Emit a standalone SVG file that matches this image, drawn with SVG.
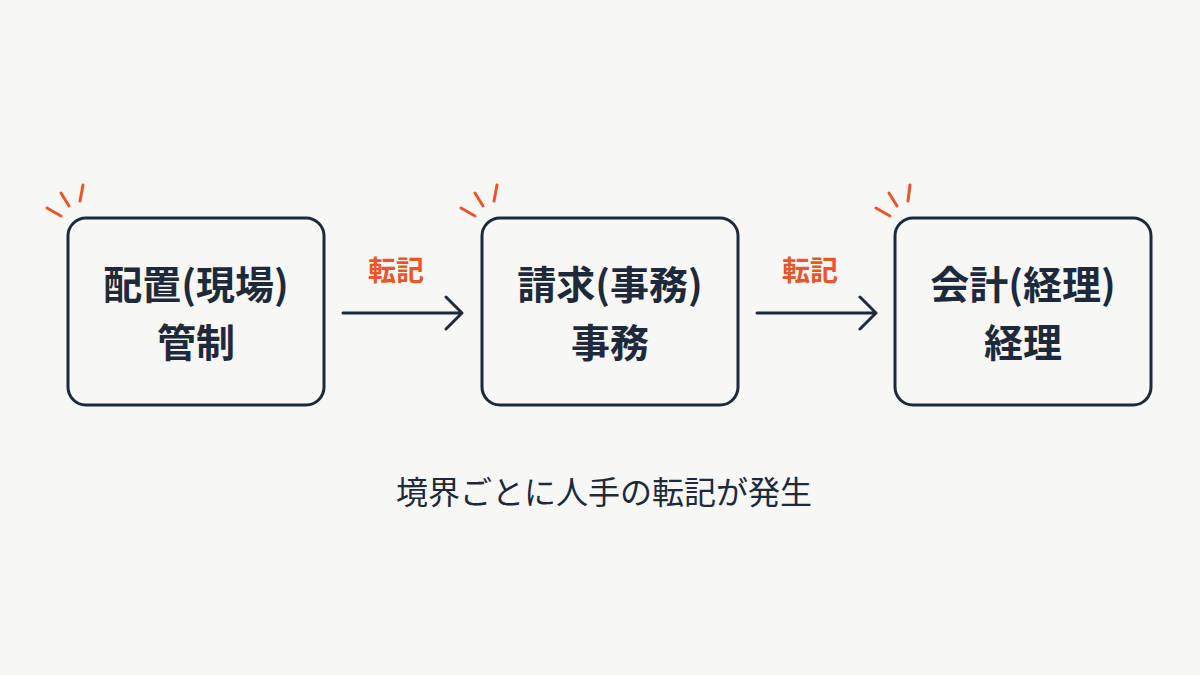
<svg xmlns="http://www.w3.org/2000/svg" width="1200" height="675" viewBox="0 0 1200 675">
<style>
.box{fill:none;stroke:#1e2a3a;stroke-width:3;}
.t{font-family:"Noto Sans CJK JP","Noto Sans",sans-serif;font-weight:700;font-size:39px;fill:#1e2a3a;text-anchor:middle;}
.lbl{font-family:"Noto Sans CJK JP","Noto Sans",sans-serif;font-weight:700;font-size:28px;fill:#e8562a;text-anchor:middle;}
.cap{font-family:"Noto Sans CJK JP","Noto Sans",sans-serif;font-weight:400;font-size:32px;fill:#1e2a3a;text-anchor:middle;}
.spark{stroke:#e8562a;stroke-width:3;stroke-linecap:round;}
.conn{fill:none;stroke:#1e2a3a;stroke-width:3;stroke-linecap:round;stroke-linejoin:round;}
</style>
<rect width="1200" height="675" fill="#f7f7f5"/>
<g id="node1">
<rect class="box" x="68" y="218" width="256" height="187" rx="18"/>
<text class="t" x="196" y="299">配置(現場)</text>
<text class="t" x="196" y="357">管制</text>
<line class="spark" x1="47" y1="208" x2="61" y2="216"/>
<line class="spark" x1="61" y1="193" x2="69" y2="206"/>
<line class="spark" x1="83" y1="185" x2="80" y2="201"/>
</g>
<g id="node2">
<rect class="box" x="482" y="218" width="256" height="187" rx="18"/>
<text class="t" x="610" y="299">請求(事務)</text>
<text class="t" x="610" y="357">事務</text>
<line class="spark" x1="461" y1="208" x2="475" y2="216"/>
<line class="spark" x1="475" y1="193" x2="483" y2="206"/>
<line class="spark" x1="497" y1="185" x2="494" y2="201"/>
</g>
<g id="node3">
<rect class="box" x="895" y="218" width="256" height="187" rx="18"/>
<text class="t" x="1023" y="299">会計(経理)</text>
<text class="t" x="1023" y="357">経理</text>
<line class="spark" x1="876" y1="208" x2="890" y2="216"/>
<line class="spark" x1="889" y1="193" x2="897" y2="206"/>
<line class="spark" x1="910" y1="185" x2="908" y2="201"/>
</g>
<g id="connectors">
<path class="conn" d="M343 313 H462 M446 297 L462 313 L446 329"/>
<text class="lbl" x="396" y="281">転記</text>
<path class="conn" d="M757 313 H876 M860 297 L876 313 L860 329"/>
<text class="lbl" x="810" y="281">転記</text>
</g>
<text class="cap" x="604" y="504">境界ごとに人手の転記が発生</text>
</svg>
